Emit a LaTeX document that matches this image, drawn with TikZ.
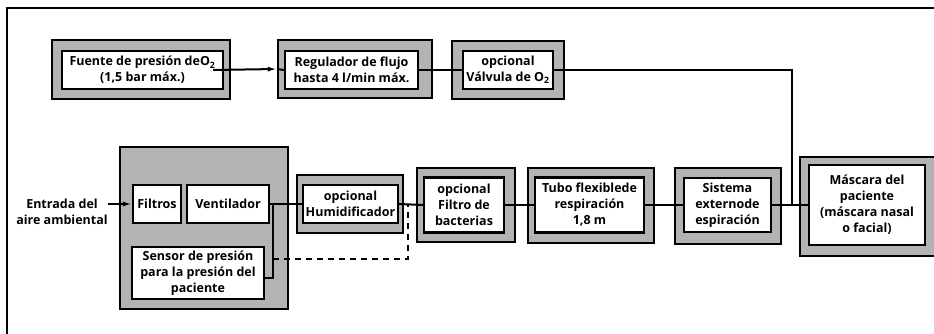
\documentclass[tikz,border=0pt]{standalone}
\usepackage{fontspec}
\setmainfont{Open Sans}
\usetikzlibrary{arrows.meta}
\definecolor{boxgray}{RGB}{179,179,179}
\begin{document}
\begin{tikzpicture}[x=1pt,y=-1pt,
  txt/.style={inner sep=0pt, align=center, font=\bfseries\fontsize{12.5}{16}\selectfont},
  inbox/.style={txt, draw, line width=2.2pt, fill=white},
  outbox/.style={draw, line width=2.2pt, fill=boxgray, inner sep=0pt},
  conn/.style={line width=2pt},
  tip/.style={-{Latex[length=9pt,width=5pt]}}]
\useasboundingbox (0,0) rectangle (934,334);
\draw[line width=2.2pt] (7,8) rectangle (960,360);
% top row
\node[outbox, minimum width=178, minimum height=59] (fo) at (141,69.5) {};
\node[inbox, minimum width=161, minimum height=38] (fi) at (142.5,70) {Fuente de presión deO\textsubscript{2}\\(1,5 bar máx.)};
\node[outbox, minimum width=154, minimum height=58] (ro) at (355,69) {};
\node[inbox, minimum width=133, minimum height=38] (ri) at (351.5,70) {Regulador de flujo\\hasta 4 l/min máx.};
\node[outbox, minimum width=112, minimum height=58] (vo) at (508,70) {};
\node[inbox, minimum width=90, minimum height=38] (vi) at (508,70) {opcional\\Válvula de O\textsubscript{2}};
% ventilator unit
\node[outbox, minimum width=168, minimum height=162] (dev) at (204,228) {};
\node[inbox, minimum width=48, minimum height=38] (filt) at (157,204) {Filtros};
\node[inbox, minimum width=82, minimum height=38] (vent) at (228,204) {Ventilador};
\node[inbox, minimum width=132, minimum height=52] (sens) at (198,273) {Sensor de presión\\para la presión del\\paciente};
\node[txt] (entr) at (62,212) {Entrada del\\aire ambiental};
% main row
\node[outbox, minimum width=106, minimum height=58] (ho) at (350,204) {};
\node[inbox, minimum width=95, minimum height=38] (hi) at (350.5,204) {opcional\\Humidificador};
\node[outbox, minimum width=98, minimum height=74] (bo) at (466,205) {};
\node[inbox, minimum width=80, minimum height=55] (bi) at (464,205) {opcional\\Filtro de\\bacterias};
\node[outbox, minimum width=126, minimum height=75] (to) at (591,205.5) {};
\node[inbox, minimum width=109, minimum height=55] (ti) at (589.5,205) {Tubo flexiblede\\respiración\\1,8 m};
\node[outbox, minimum width=106, minimum height=76] (so) at (728,206) {};
\node[inbox, minimum width=87, minimum height=54] (si) at (727.5,205) {Sistema\\externode\\espiración};
\node[outbox, minimum width=144, minimum height=99] (mo) at (872,206.5) {};
\node[inbox, minimum width=116, minimum height=80] (mi) at (867,205) {Máscara del\\paciente\\(máscara nasal\\o facial)};
% coordinates
\coordinate (j) at (273,204);
\coordinate (sj) at (273,278);
\coordinate (d1) at (273,259);
\coordinate (d2) at (408,259);
\coordinate (d3) at (408,205);
\coordinate (k) at (792,205);
% connectors top
\draw[conn, tip] ([xshift=-11pt]fi.east) -- (ro.west);
\draw[conn] (ro.west) -- (ri.west);
\draw[conn] (ri.east) -- (vi.west);
\draw[conn] (vi.east) -| (k);
% connectors main
\draw[conn, tip] (entr.east |- filt.west) -- (filt.west);
\draw[conn] (vent.east) -- (hi.west);
\draw[conn] (j) -- (sj) -- (sj -| sens.east);
\draw[conn, dashed, dash pattern=on 6pt off 5pt] (d1) -- (d2) -- (d3);
\draw[conn] (hi.east) -- (bi.west);
\draw[conn] (bi.east) -- (ti.west);
\draw[conn] (ti.east) -- (si.west);
\draw[conn] (si.east) -- (mi.west);
\end{tikzpicture}
\end{document}
